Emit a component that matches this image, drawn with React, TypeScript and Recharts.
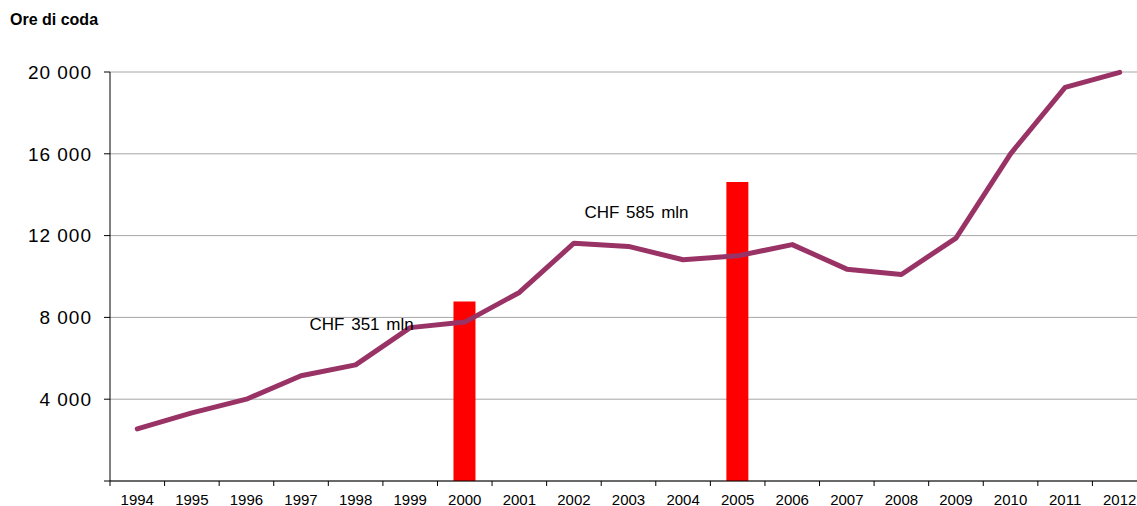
import React from 'react';
import { ComposedChart, Line, Bar, XAxis, YAxis, CartesianGrid, ReferenceDot } from 'recharts';

const years = ['1994', '1995', '1996', '1997', '1998', '1999', '2000', '2001', '2002', '2003', '2004', '2005', '2006', '2007', '2008', '2009', '2010', '2011', '2012'];
const queueHours = [2550, 3330, 4000, 5150, 5680, 7500, 7770, 9220, 11630, 11470, 10820, 11010, 11560, 10360, 10100, 11880, 16000, 19250, 19980];

// investment bars (CHF mln, drawn on the hours scale)
const investYears = ['2000', '2005'];
const investValues = [8775, 14625];

const noteTexts = ['CHF 351 mln', 'CHF 585 mln'];
const noteYears = ['1998', '2003'];
const noteValues = [7690, 13170];

const yTicks = [0, 4000, 8000, 12000, 16000, 20000];

const CHART_W = 1147;
const CHART_H = 506;
const Y_AXIS_W = 110;
const X_AXIS_H = 25;
const MARGIN_TOP = 72;
const BAND = (CHART_W - Y_AXIS_W) / years.length;
const AXIS_Y = CHART_H - X_AXIS_H;

const data = years.map((year, i) => {
  const k = investYears.indexOf(year);
  return { year, hours: queueHours[i], invest: k >= 0 ? investValues[k] : null };
});

const fmtThousands = (v: number) => (v === 0 ? '' : `${Math.floor(v / 1000)} 000`);

const YearTick = (props: any) => {
  const { x, payload, index } = props;
  return (
    <g>
      <line x1={x - BAND / 2} y1={AXIS_Y} x2={x - BAND / 2} y2={AXIS_Y + 5} stroke="#000" />
      {index === years.length - 1 && (
        <line x1={x + BAND / 2} y1={AXIS_Y} x2={x + BAND / 2} y2={AXIS_Y + 5} stroke="#000" />
      )}
      <text x={x} y={AXIS_Y + 13} dy="0.71em" textAnchor="middle" fill="#000" fontSize={15} fontFamily="'Liberation Sans', Arial, sans-serif">
        {payload.value}
      </text>
    </g>
  );
};

const noteLabel = (text: string, dx: number) => (props: any) => {
  const vb = props.viewBox || {};
  return (
    <text x={vb.x + dx} y={vb.y} dy="0.35em" textAnchor="middle" fill="#000" fontSize={17} wordSpacing={2} fontFamily="'Liberation Sans', Arial, sans-serif">
      {text}
    </text>
  );
};

const noteOffsets = [6, 8];

export default function App() {
  return (
    <div style={{ position: 'absolute', left: 0, top: 0, width: 1137, height: 506, overflow: 'hidden', background: '#fff' }}>
      <div style={{ position: 'absolute', left: 10, top: 11, fontFamily: "'Liberation Sans', Arial, sans-serif", fontWeight: 'bold', fontSize: 16, color: '#000' }}>
        Ore di coda
      </div>
      <ComposedChart width={CHART_W} height={CHART_H} data={data} margin={{ top: MARGIN_TOP, right: 0, bottom: 0, left: 0 }} barCategoryGap={0}>
        <CartesianGrid vertical={false} stroke="#a6a6a6" />
        <XAxis
          dataKey="year"
          height={X_AXIS_H}
          axisLine={{ stroke: '#000' }}
          tickLine={false}
          interval={0}
          tick={<YearTick />}
        />
        <YAxis
          width={Y_AXIS_W}
          domain={[0, 20000]}
          ticks={yTicks}
          interval={0}
          axisLine={{ stroke: '#000' }}
          tickLine={{ stroke: '#000' }}
          tickSize={6}
          tickMargin={12}
          tickFormatter={fmtThousands}
          tick={{ fill: '#000', fontSize: 19, letterSpacing: 1, fontFamily: "'Liberation Sans', Arial, sans-serif" }}
        />
        <Bar dataKey="invest" fill="#ff0000" barSize={22} isAnimationActive={false} />
        <Line
          type="linear"
          dataKey="hours"
          stroke="#993366"
          strokeWidth={5}
          strokeLinecap="round"
          strokeLinejoin="round"
          dot={false}
          activeDot={false}
          isAnimationActive={false}
        />
        {noteTexts.map((t, i) => (
          <ReferenceDot
            key={t}
            x={noteYears[i]}
            y={noteValues[i]}
            r={0}
            fill="none"
            stroke="none"
            label={noteLabel(t, noteOffsets[i])}
          />
        ))}
      </ComposedChart>
    </div>
  );
}
